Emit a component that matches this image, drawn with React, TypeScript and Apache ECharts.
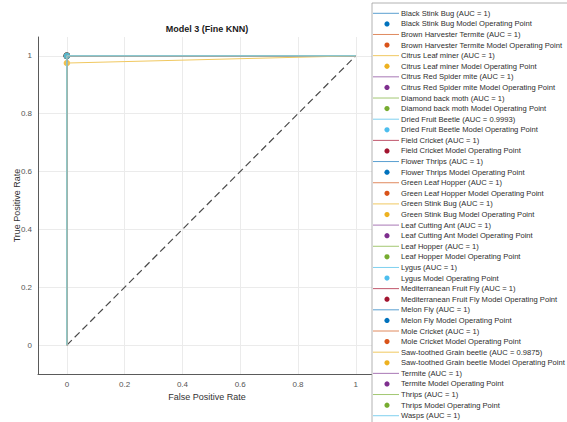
import React, { useEffect, useRef } from "react";
import * as echarts from "echarts";

const classNames = [
  "Black Stink Bug",
  "Brown Harvester Termite",
  "Citrus Leaf miner",
  "Citrus Red Spider mite",
  "Diamond back moth",
  "Dried Fruit Beetle",
  "Field Cricket",
  "Flower Thrips",
  "Green Leaf Hopper",
  "Green Stink Bug",
  "Leaf Cutting Ant",
  "Leaf Hopper",
  "Lygus",
  "Mediterranean Fruit Fly",
  "Melon Fly",
  "Mole Cricket",
  "Saw-toothed Grain beetle",
  "Termite",
  "Thrips",
  "Wasps",
];
const aucLabels = [
  "1", "1", "1", "1", "1", "0.9993", "1", "1", "1", "1",
  "1", "1", "1", "1", "1", "1", "0.9875", "1", "1", "1",
];
// ROC curve vertices per class (false positive rate, true positive rate)
const rocFpr = [
  [0, 0, 1], [0, 0, 1], [0, 0, 1], [0, 0, 1], [0, 0, 1],
  [0, 0, 1], [0, 0, 1], [0, 0, 1], [0, 0, 1], [0, 0, 1],
  [0, 0, 1], [0, 0, 1], [0, 0, 1], [0, 0, 1], [0, 0, 1],
  [0, 0, 1], [0, 0, 1], [0, 0, 1], [0, 0, 1], [0, 0, 1],
];
const rocTpr = [
  [0, 1, 1], [0, 1, 1], [0, 1, 1], [0, 1, 1], [0, 1, 1],
  [0, 0.9986, 1], [0, 1, 1], [0, 1, 1], [0, 1, 1], [0, 1, 1],
  [0, 1, 1], [0, 1, 1], [0, 1, 1], [0, 1, 1], [0, 1, 1],
  [0, 1, 1], [0, 0.975, 1], [0, 1, 1], [0, 1, 1], [0, 1, 1],
];
// Model operating points
const opFpr = [0, 0, 0, 0, 0, 0, 0, 0, 0, 0, 0, 0, 0, 0, 0, 0, 0, 0, 0, 0];
const opTpr = [1, 1, 1, 1, 1, 0.9986, 1, 1, 1, 1, 1, 1, 1, 1, 1, 1, 0.975, 1, 1, 1];
const diagonalX = [0, 1];
const diagonalY = [0, 1];

const palette = ["#0072BD", "#D95319", "#EDB120", "#7E2F8E", "#77AC30", "#4DBEEE", "#A2142F"];
const lineColors = ["#5a9fd0", "#e08a5f", "#f0c860", "#a878b5", "#a3c872", "#7fd0ef", "#c0566b"];

const FONT = "'Liberation Sans', Arial, Helvetica, sans-serif";

const isTick = (v: number) => Math.abs(v / 0.2 - Math.round(v / 0.2)) < 1e-6;

export default function App() {
  const ref = useRef<HTMLDivElement>(null);
  useEffect(() => {
    if (!ref.current) return;
    const chart = echarts.init(ref.current, null, { renderer: "svg" });

    const series: any[] = [
      {
        type: "line",
        data: diagonalX.map((x, i) => [x, diagonalY[i]]),
        symbol: "none",
        lineStyle: { color: "#4a4a4a", width: 1.2, type: [7, 4] },
        silent: true,
      },
    ];
    classNames.forEach((_, i) => {
      series.push({
        type: "line",
        data: rocFpr[i].map((x, j) => [x, rocTpr[i][j]]),
        symbol: "none",
        lineStyle: { color: lineColors[i % 7], width: 1 },
        silent: true,
      });
      series.push({
        type: "scatter",
        data: [[opFpr[i], opTpr[i]]],
        symbol: "circle",
        symbolSize: 6.5,
        itemStyle: { color: palette[i % 7] },
        silent: true,
      });
    });

    // legend entries
    const legendTop = 13.3;
    const step = 10.59;
    const legendEls: any[] = [
      {
        type: "rect",
        shape: { x: 372, y: 3, width: 200, height: 425 },
        style: { fill: "#ffffff", stroke: "#a0a0a0", lineWidth: 0.8 },
        z: 100,
      },
    ];
    let k = 0;
    classNames.forEach((name, i) => {
      const y1 = legendTop + k * step;
      legendEls.push({
        type: "line",
        shape: { x1: 373, y1, x2: 399, y2: y1 },
        style: { stroke: lineColors[i % 7], lineWidth: 1 },
        z: 101,
      });
      legendEls.push({
        type: "text",
        x: 401,
        y: y1,
        style: {
          text: `${name} (AUC = ${aucLabels[i]})`,
          fill: "#2e2e2e",
          font: `7.6px ${FONT}`,
          verticalAlign: "middle",
          align: "left",
        },
        z: 101,
      });
      k++;
      if (i < classNames.length - 1) {
        const y2 = legendTop + k * step;
        legendEls.push({
          type: "circle",
          shape: { cx: 387, cy: y2, r: 2.6 },
          style: { fill: palette[i % 7] },
          z: 101,
        });
        legendEls.push({
          type: "text",
          x: 401,
          y: y2,
          style: {
            text: `${name} Model Operating Point`,
            fill: "#2e2e2e",
            font: `7.6px ${FONT}`,
            verticalAlign: "middle",
            align: "left",
          },
          z: 101,
        });
        k++;
      }
    });

    chart.setOption({
      animation: false,
      backgroundColor: "#ffffff",
      grid: {
        left: 38,
        top: 37,
        right: 191,
        bottom: 48,
        containLabel: false,
        outerBoundsMode: "none",
      },
      xAxis: {
        type: "value",
        min: -0.1,
        max: 1.07,
        splitNumber: 6,
        name: "False Positive Rate",
        nameLocation: "middle",
        nameGap: 18,
        nameMoveOverlap: false,
        nameTextStyle: { fontFamily: FONT, fontSize: 9, color: "#333", verticalAlign: "top" },
        axisLine: { show: true, onZero: false, lineStyle: { color: "#5a5a5a", width: 1 } },
        axisTick: { show: false },
        axisLabel: {
          fontFamily: FONT,
          fontSize: 8,
          color: "#555",
          margin: 6,
          formatter: (v: number) => (isTick(v) ? String(Math.round(v * 10) / 10) : ""),
        },
        splitLine: { show: true, showMinLine: false, showMaxLine: false, lineStyle: { color: "#ebebeb", width: 1 } },
      },
      yAxis: {
        type: "value",
        min: -0.1,
        max: 1.065,
        splitNumber: 6,
        name: "True Positive Rate",
        nameLocation: "middle",
        nameGap: 17,
        nameMoveOverlap: false,
        nameTextStyle: { fontFamily: FONT, fontSize: 9, color: "#333" },
        axisLine: { show: true, onZero: false, lineStyle: { color: "#5a5a5a", width: 1 } },
        axisTick: { show: false },
        axisLabel: {
          fontFamily: FONT,
          fontSize: 8,
          color: "#555",
          margin: 6,
          formatter: (v: number) => (isTick(v) ? String(Math.round(v * 10) / 10) : ""),
        },
        splitLine: { show: true, showMinLine: false, showMaxLine: false, lineStyle: { color: "#ebebeb", width: 1 } },
      },
      series,
      graphic: [
        {
          type: "text",
          x: 207,
          y: 29,
          style: {
            text: "Model 3 (Fine KNN)",
            fill: "#1a1a1a",
            font: `bold 9px ${FONT}`,
            align: "center",
            verticalAlign: "middle",
          },
        },
        ...legendEls,
      ],
    });
    return () => chart.dispose();
  }, []);
  return (
    <div
      ref={ref}
      style={{ position: "absolute", left: 0, top: 0, width: 567, height: 422 }}
    />
  );
}
